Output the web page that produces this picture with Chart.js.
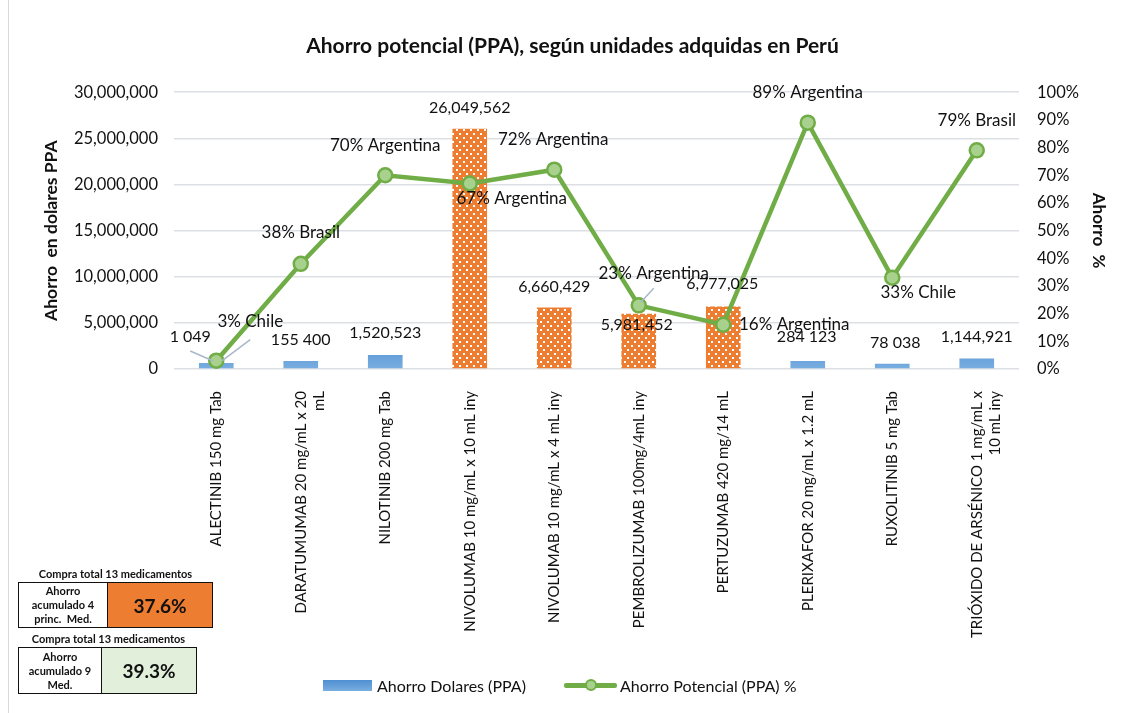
<!DOCTYPE html>
<html>
<head>
<meta charset="utf-8">
<script src="https://cdn.jsdelivr.net/npm/chart.js@4.4.0/dist/chart.umd.min.js"></script>
<style>
  html, body { margin: 0; padding: 0; background: #fff; }
  #wrap { position: relative; width: 1129px; height: 713px; font-family: Lato, sans-serif; color: #111; }
  #edge { position: absolute; left: 8px; top: 0; width: 1px; height: 713px; background: #d9d9d9; }
  canvas { position: absolute; left: 0; top: 0; }
  .boxTitle { position: absolute; font-weight: bold; font-size: 11px; text-align: center; white-space: nowrap; }
  .box { position: absolute; display: flex; border: 1.5px solid #111; box-sizing: border-box; }
  .box .lbl { border-right: 1.5px solid #111; font-weight: bold; font-size: 11px; line-height: 14px;
              display: flex; align-items: center; justify-content: center; text-align: center; background: #fff; }
  .box .val { flex: 1; font-weight: bold; font-size: 19px; display: flex; align-items: center; justify-content: center; }
  .leg { position: absolute; top: 675px; font-size: 16px; white-space: nowrap; display: flex; align-items: center; height: 20px; }
  .swBar { width: 49px; height: 11px; background: linear-gradient(#4f8fd2, #79aee0); margin-right: 5px; }
  .swLine { position: relative; width: 53px; height: 20px; margin-right: 3px; }
  .swLine .l { position: absolute; left: 0; top: 8px; width: 53px; height: 4.5px; background: #70ad47; border-radius: 2px; }
  .swLine .c { position: absolute; left: 21px; top: 4px; width: 8px; height: 8px; border-radius: 50%;
               background: #a9d18e; border: 2px solid #70ad47; }
</style>
</head>
<body>
<div id="wrap">
  <div id="edge"></div>
  <canvas id="chart" width="1129" height="713"></canvas>

  <div class="boxTitle" style="left:18px; width:195px; top:567px;">Compra total 13 medicamentos</div>
  <div class="box" style="left:18px; top:582px; width:195px; height:46px;">
    <div class="lbl" style="width:88px;">Ahorro<br>acumulado 4<br>princ.&nbsp; Med.</div>
    <div class="val" style="background:#ed7d31;">37.6%</div>
  </div>

  <div class="boxTitle" style="left:18px; width:181px; top:632px;">Compra total 13 medicamentos</div>
  <div class="box" style="left:18px; top:647px; width:179px; height:47px;">
    <div class="lbl" style="width:82px;">Ahorro<br>acumulado 9<br>Med.</div>
    <div class="val" style="background:#e2efda;">39.3%</div>
  </div>

  <div class="leg" style="left:323px;"><div class="swBar"></div>Ahorro Dolares (PPA)</div>
  <div class="leg" style="left:564px;"><div class="swLine"><div class="l"></div><div class="c"></div></div>Ahorro Potencial (PPA) %</div>
</div>

<script>
// medicamentos
const categories = [
  'ALECTINIB 150 mg Tab',
  ['DARATUMUMAB 20 mg/mL x 20', 'mL'],
  'NILOTINIB 200 mg Tab',
  'NIVOLUMAB 10 mg/mL x 10 mL iny',
  'NIVOLUMAB 10 mg/mL x 4 mL iny',
  'PEMBROLIZUMAB 100mg/4mL iny',
  'PERTUZUMAB 420 mg/14 mL',
  'PLERIXAFOR 20 mg/mL x 1.2 mL',
  'RUXOLITINIB 5 mg Tab',
  ['TRIÓXIDO DE ARSÉNICO 1 mg/mL x', '10 mL iny']
];

// ahorro en dolares PPA (alturas)
const ahorroDolares = [650000, 880000, 1520523, 26049562, 6660429, 5981452, 6777025, 870000, 560000, 1144921];
// etiquetas tal como aparecen
const ahorroDolaresTxt = ['1 049', '155 400', '1,520,523', '26,049,562', '6,660,429', '5,981,452', '6,777,025', '284 123', '78 038', '1,144,921'];
// 4 principales medicamentos (barras naranjas)
const principales = [false, false, false, true, true, true, true, false, false, false];

// ahorro potencial %
const ahorroPct = [3, 38, 70, 67, 72, 23, 16, 89, 33, 79];
const paisRef = ['Chile', 'Brasil', 'Argentina', 'Argentina', 'Argentina', 'Argentina', 'Argentina', 'Argentina', 'Chile', 'Brasil'];

const leftTicks = [0, 5000000, 10000000, 15000000, 20000000, 25000000, 30000000];
const rightTicks = [0, 10, 20, 30, 40, 50, 60, 70, 80, 90, 100];

// posicion de etiquetas (desplazamiento respecto a la marca)
const barLabelOffsets = [[-26, -26], [0, -21], [0, -22], [0, -21], [0, -21], [-2, 11], [-1, -23], [-1, -24], [3, -21], [0, -22]];
const lineLabelOffsets = [[34, -39], [0, -31], [0, -30], [42, 15], [-1, -30], [15, -32], [71, 0], [0, -30], [26, 15], [0, -30]];
const barLeaders = [{ i: 0, from: [-26, -12], to: [-3, -2] }];
const lineLeaders = [{ i: 0, from: [34, -21], to: [6, 0] }, { i: 5, from: [15, -17], to: [2, -3] }];

Chart.defaults.font.family = 'Lato, sans-serif';
Chart.defaults.color = '#111';

const ctx = document.getElementById('chart').getContext('2d');

// patron de puntos blancos sobre naranja
const dots = ctx.createPattern((() => {
  const c = document.createElement('canvas');
  c.width = 7; c.height = 8;
  const g = c.getContext('2d');
  g.fillStyle = '#ed7d31';
  g.fillRect(0, 0, 7, 8);
  g.fillStyle = '#ffffff';
  g.fillRect(1, 1, 2, 2);
  g.fillRect(4, 5, 2, 2);
  return c;
})(), 'repeat');

function barColor(context) {
  const i = context.dataIndex;
  if (principales[i]) return dots;
  const area = context.chart.chartArea;
  if (!area) return '#5b9bd5';
  const gr = context.chart.ctx.createLinearGradient(0, area.bottom - 30, 0, area.bottom);
  gr.addColorStop(0, '#4f8fd2');
  gr.addColorStop(1, '#79aee0');
  return gr;
}

const labelPlugin = {
  id: 'etiquetas',
  afterDatasetsDraw(chart) {
    const c = chart.ctx;
    const bars = chart.getDatasetMeta(1).data;
    const pts = chart.getDatasetMeta(0).data;
    c.save();
    c.strokeStyle = '#a9b7ca';
    c.lineWidth = 1.5;
    barLeaders.forEach(l => {
      const el = bars[l.i];
      c.beginPath();
      c.moveTo(el.x + l.from[0], el.y + l.from[1]);
      c.lineTo(el.x + l.to[0], el.y + l.to[1]);
      c.stroke();
    });
    lineLeaders.forEach(l => {
      const el = pts[l.i];
      c.beginPath();
      c.moveTo(el.x + l.from[0], el.y + l.from[1]);
      c.lineTo(el.x + l.to[0], el.y + l.to[1]);
      c.stroke();
    });
    c.fillStyle = '#111';
    c.textAlign = 'center';
    c.textBaseline = 'middle';
    c.font = '16px Lato, sans-serif';
    bars.forEach((el, i) => {
      c.fillText(ahorroDolaresTxt[i], el.x + barLabelOffsets[i][0], el.y + barLabelOffsets[i][1]);
    });
    c.font = '17px Lato, sans-serif';
    pts.forEach((el, i) => {
      c.fillText(ahorroPct[i] + '% ' + paisRef[i], el.x + lineLabelOffsets[i][0], el.y + lineLabelOffsets[i][1]);
    });
    c.restore();
  }
};

new Chart(ctx, {
  type: 'bar',
  data: {
    labels: categories,
    datasets: [
      {
        type: 'line',
        label: 'Ahorro Potencial (PPA) %',
        data: ahorroPct,
        yAxisID: 'yPct',
        borderColor: '#70ad47',
        borderWidth: 4.5,
        pointRadius: 7,
        pointBackgroundColor: '#a9d18e',
        pointBorderColor: '#70ad47',
        pointBorderWidth: 2.5,
        tension: 0,
        order: 0
      },
      {
        type: 'bar',
        label: 'Ahorro Dolares (PPA)',
        data: ahorroDolares,
        yAxisID: 'y',
        backgroundColor: barColor,
        barPercentage: 0.41,
        categoryPercentage: 1,
        order: 1
      }
    ]
  },
  options: {
    responsive: false,
    animation: false,
    layout: { padding: { left: 16, right: 0, top: 0, bottom: 0 } },
    plugins: {
      legend: { display: false },
      tooltip: { enabled: false },
      title: {
        display: true,
        text: 'Ahorro potencial (PPA), según unidades adquidas en Perú',
        font: { size: 21, weight: 'bold' },
        color: '#111',
        padding: { top: 34, bottom: 33 }
      }
    },
    scales: {
      x: {
        grid: { display: false },
        border: { display: false },
        ticks: { autoSkip: false, minRotation: 90, maxRotation: 90, padding: 14, font: { size: 15 }, color: '#111' },
        afterFit(s) { s.height = 344; }
      },
      y: {
        position: 'left',
        min: 0,
        max: 30000000,
        afterBuildTicks(s) { s.ticks = leftTicks.map(v => ({ value: v })); },
        ticks: { padding: 16, font: { size: 16.5 }, color: '#111', callback: v => v.toLocaleString('en-US') },
        grid: { color: '#dcdfe4', lineWidth: 1.5, drawTicks: false },
        border: { display: false },
        title: { display: true, text: 'Ahorro  en dolares PPA', font: { size: 17.5, weight: 'bold' }, color: '#111', padding: { top: 25 } },
        afterFit(s) { s.width = 158; }
      },
      yPct: {
        position: 'right',
        min: 0,
        max: 100,
        afterBuildTicks(s) { s.ticks = rightTicks.map(v => ({ value: v })); },
        ticks: { padding: 18, font: { size: 16.5 }, color: '#111', callback: v => v + '%' },
        grid: { display: false, drawTicks: false },
        border: { display: false },
        title: { display: true, text: 'Ahorro  %', font: { size: 17, weight: 'bold' }, color: '#111', padding: { top: 20 } },
        afterFit(s) { s.width = 110; }
      }
    }
  },
  plugins: [labelPlugin]
});
</script>
</body>
</html>
